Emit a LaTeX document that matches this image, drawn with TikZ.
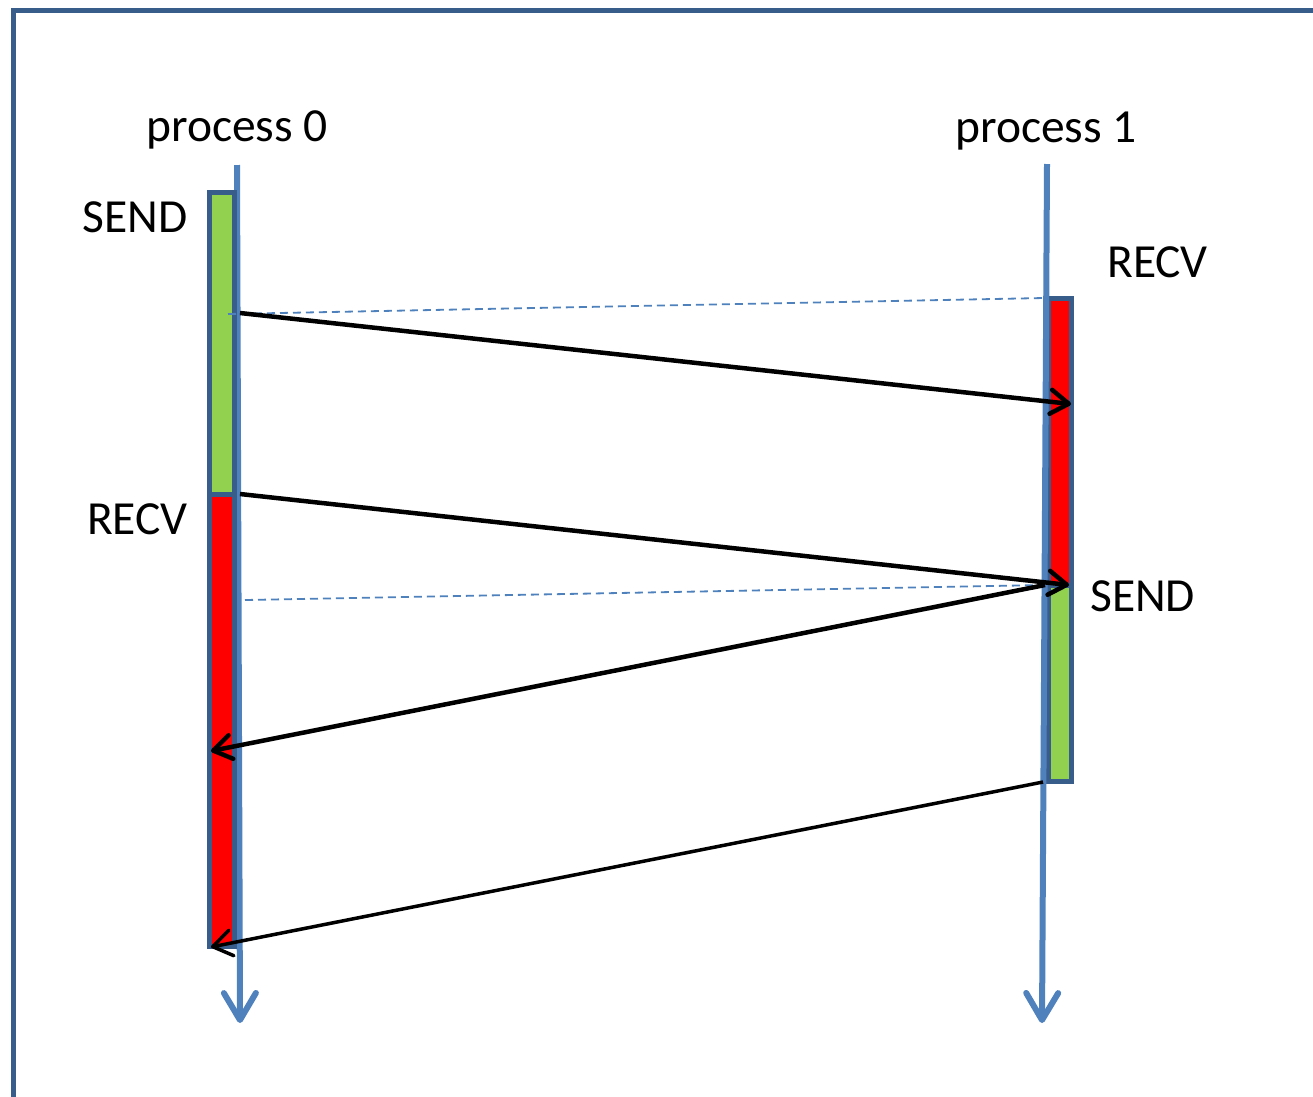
\documentclass[tikz,border=0pt]{standalone}
\usepackage{fontspec}
\setmainfont{Carlito}
\usetikzlibrary{arrows.meta}
\definecolor{frameblue}{RGB}{56,93,138}
\definecolor{lineblue}{RGB}{79,129,189}
\definecolor{sendgreen}{RGB}{146,208,80}
\definecolor{recvred}{RGB}{255,0,0}
\tikzset{
  lbl/.style={inner sep=0pt, font=\fontsize{47.5pt}{52pt}\selectfont},
  timeline/.style={draw=lineblue, line width=6pt, -{Straight Barb[length=27pt,width=32pt,line cap=round,line join=round]}},
  bar/.style={draw=frameblue, line width=5pt},
  msg/.style={draw=black, line width=4.5pt, -{Straight Barb[length=18pt,width=24pt,line cap=round,line join=round]}},
  msgthin/.style={draw=black, line width=3.5pt, -{Straight Barb[length=19pt,width=26pt,line cap=round,line join=round]}},
  sync/.style={draw=lineblue, line width=1.8pt, dash pattern=on 8pt off 5pt},
}
\begin{document}
\begin{tikzpicture}[x=1pt,y=-1pt]
\useasboundingbox (0,0) rectangle (1313,1096);
\begin{scope}
\clip (0,0) rectangle (1313,1096);
\draw[frameblue, line width=5.5pt] (13.5,1120) -- (13.5,10.5) -- (1340,10.5);
\end{scope}

% labels
\node[lbl, anchor=base] (p0) at (237,141) {process 0};
\node[lbl, anchor=base] (p1) at (1046,142) {process 1};
\node[lbl, anchor=base east] (send0) at (188,232) {SEND};
\node[lbl, anchor=base west] (recv1) at (1107,277) {RECV};
\node[lbl, anchor=base east] (recv0) at (188,534) {RECV};
\node[lbl, anchor=base west] (send1) at (1090,611) {SEND};

% right bar (behind timeline 1)
\draw[bar, fill=recvred] (1048,298.5) rectangle (1071.5,585);
\draw[bar, fill=sendgreen] (1048,585) rectangle (1071.5,781);

% timelines
\coordinate (t0s) at (237,165);
\coordinate (t0e) at (240,1023);
\coordinate (t1s) at (1047,164);
\coordinate (t1e) at (1042,1023);
\draw[timeline] (t0s) -- (t0e);
\draw[timeline] (t1s) -- (t1e);

% left bar (over timeline 0)
\draw[bar, fill=sendgreen] (209.5,192.5) rectangle (234.5,494.5);
\draw[bar, fill=recvred] (209.5,494.5) rectangle (234.5,946.5);

% synchronisation lines
\coordinate (d1a) at (228,314);
\coordinate (d1b) at (1044,298);
\coordinate (d2a) at (245,600);
\coordinate (d2b) at (1045,585);
\draw[sync] (d1a) -- (d1b);
\draw[sync] (d2a) -- (d2b);

% messages
\coordinate (m1a) at (240,313);
\coordinate (m1b) at (1071,404);
\coordinate (m2a) at (240,494);
\coordinate (m2b) at (1069,585);
\coordinate (m3a) at (1045,585);
\coordinate (m3b) at (211,751);
\coordinate (m4a) at (1043,782);
\coordinate (m4b) at (211,947);
\draw[msg] (m1a) -- (m1b);
\draw[msg] (m2a) -- (m2b);
\draw[msg] (m3a) -- (m3b);
\draw[msgthin] (m4a) -- (m4b);
\end{tikzpicture}
\end{document}
